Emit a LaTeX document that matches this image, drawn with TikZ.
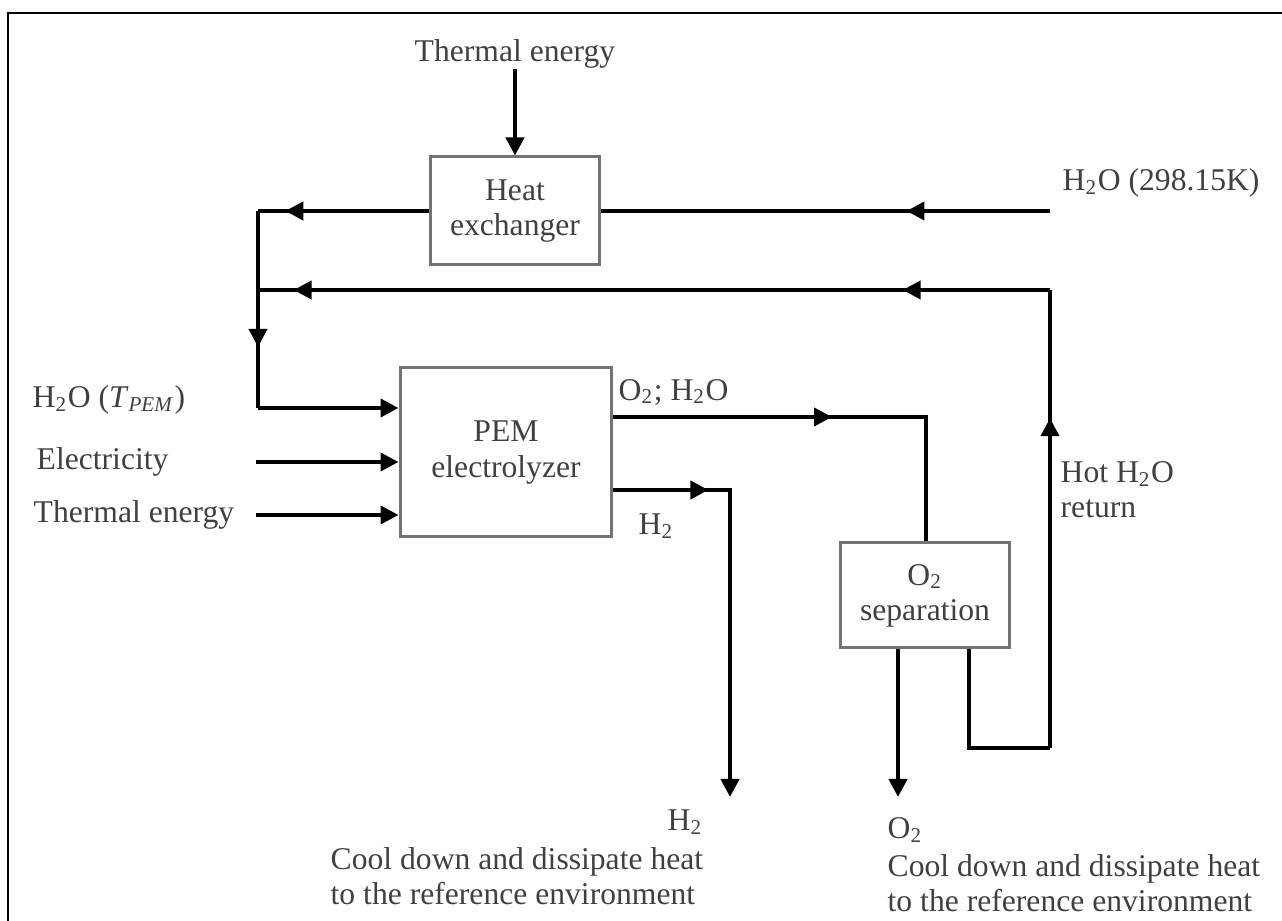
\documentclass[tikz,border=0pt]{standalone}
\usepackage{fontspec}
\setmainfont{Liberation Serif}
\usetikzlibrary{arrows.meta,decorations.markings}

\begin{document}
\begin{tikzpicture}
    [x=0.1mm, y=-0.1mm,
    font=\fontsize{9}{10}\selectfont,
    unit/.style={
        draw=black!55,
        line width=0.3mm,
        text=black!75,
        align=center,
        inner sep=0pt
    },
    txt/.style={text=black!75, align=left, inner sep=0pt},
    line/.style={
        draw, line width=0.4mm
    },
    arrowline/.style={
        line, -{Triangle[length=1.8mm, width=1.8mm]}
    },
    midarrow/.style={
        line, postaction={decorate},
        decoration={markings, mark=at position #1 with {\arrow{Triangle[length=1.8mm, width=1.8mm]}}}
    },
    twoarrows/.style 2 args={
        line, postaction={decorate},
        decoration={markings,
            mark=at position #1 with {\arrow{Triangle[length=1.8mm, width=1.8mm]}},
            mark=at position #2 with {\arrow{Triangle[length=1.8mm, width=1.8mm]}}}
    }
    ]
    \useasboundingbox (0,0) rectangle (1282,921);
    \draw[line width=0.15mm] (8,921) -- (8,13) -- (1282,13);

    % Einingar
    \node[unit, minimum width=17mm, minimum height=10.8mm] (hx) at (515,211) {Heat\\exchanger};
    \node[unit, minimum width=21.2mm, minimum height=16.9mm] (pem) at (506,452.5) {PEM\\electrolyzer};
    \node[unit, minimum width=17mm, minimum height=10.5mm] (osep) at (925,595.5) {O\textsubscript{2}\\separation};

    % Textar
    \node[txt] (thtop) at (515,54) {Thermal energy};
    \node[txt, anchor=west] (h2oin) at (1062,183) {H\textsubscript{2}O (298.15K)};
    \node[txt, anchor=west] (h2opem) at (32,400) {H\textsubscript{2}O (\textit{T}\textsubscript{\textit{PEM}})};
    \node[txt, anchor=west] (elec) at (36,462) {Electricity};
    \node[txt, anchor=west] (thin) at (33,515) {Thermal energy};
    \node[txt, anchor=west] (mix) at (618,392) {O\textsubscript{2}; H\textsubscript{2}O};
    \node[txt, anchor=west] (h2lab) at (638,526) {H\textsubscript{2}};
    \node[txt, anchor=west] (hot) at (1060,490) {Hot H\textsubscript{2}O\\return};
    \node[txt, anchor=west] (h2out) at (667,822) {H\textsubscript{2}};
    \node[txt, anchor=west] (coolh) at (330,876) {Cool down and dissipate heat\\to the reference environment};
    \node[txt, anchor=west] (o2out) at (887,830) {O\textsubscript{2}};
    \node[txt, anchor=west] (coolo) at (887,883) {Cool down and dissipate heat\\to the reference environment};

    % Hnit
    \coordinate (hxl) at (258,211);
    \coordinate (pemc) at (258,408);
    \coordinate (wtr) at (1050,211);
    \coordinate (retr) at (1050,290);
    \coordinate (retl) at (258,290);
    \coordinate (retb) at (1050,748);
    \coordinate (sepb) at (969,748);
    \coordinate (elin) at (256,462);
    \coordinate (thin0) at (256,515);
    \coordinate (mixc) at (926,417);
    \coordinate (h2c) at (730,490);
    \coordinate (h2e) at (730,797);
    \coordinate (o2e) at (898,797);

    % Línur
    \draw[arrowline] (thtop) -- (hx);
    \draw[midarrow=0.32] (wtr) -- (hx.east);
    \draw[midarrow=0.84] (hx.west) -- (hxl);
    \draw[midarrow=0.69] (hxl) -- (pemc);
    \draw[arrowline] (pemc) -- (pem.west |- pemc);
    \draw[arrowline] (elin) -- (pem.west |- elin);
    \draw[arrowline] (thin0) -- (pem.west |- thin0);
    \draw[twoarrows={0.186}{0.955}] (retr) -- (retl);
    \draw[midarrow=0.72] (retb) -- (retr);
    \draw[line] (osep.south -| sepb) -- (sepb) -- (retb);
    \draw[midarrow=0.5] (pem.east |- mixc) -- (mixc) -- (osep.north -| mixc);
    \draw[arrowline, midarrow=0.224] (pem.east |- h2c) -- (h2c) -- (h2e);
    \draw[arrowline] (osep.south -| o2e) -- (o2e);
\end{tikzpicture}
\end{document}
